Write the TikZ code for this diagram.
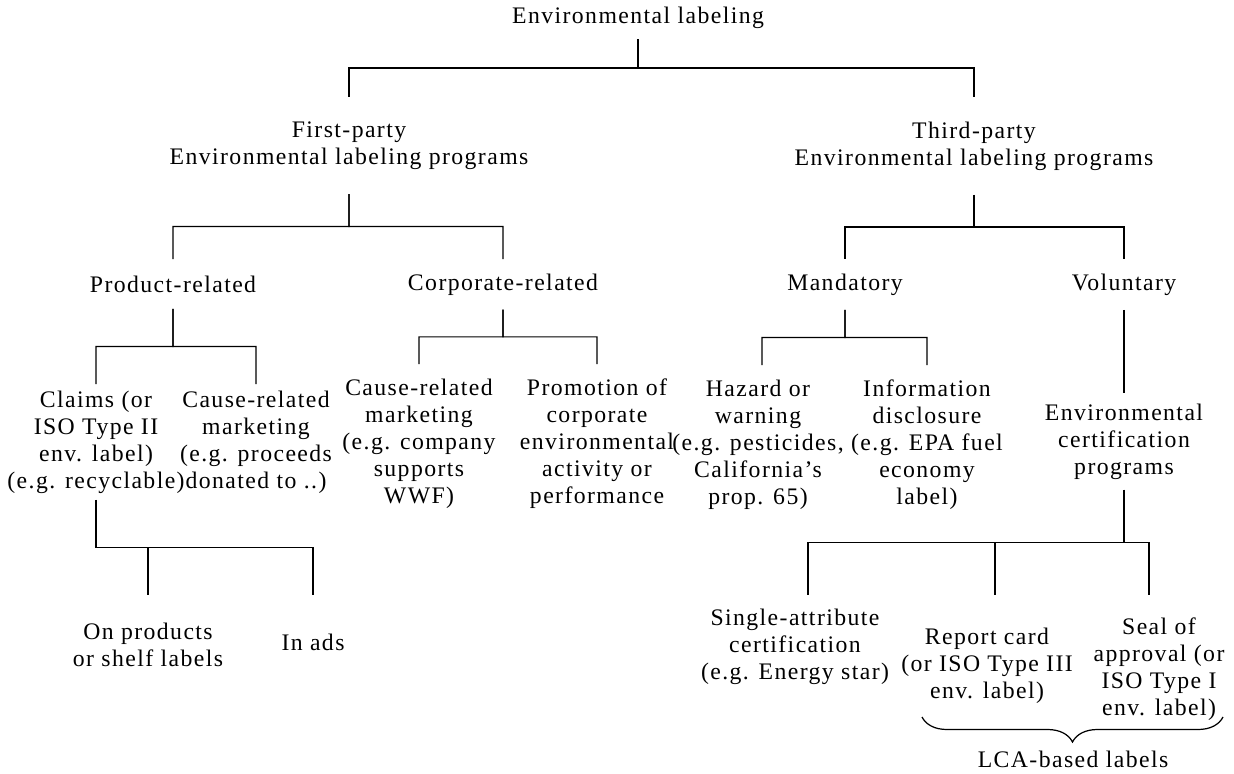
\documentclass[tikz,border=0pt]{standalone}
\usepackage{fontspec}
\setmainfont{Liberation Serif}[LetterSpace=6]
\usetikzlibrary{calc,decorations.pathreplacing}

% elbow connector: parent -> child, bar halfway between them
\newcommand{\branch}[3][0cm]{%
  \draw (#2.south) -- ($(#2.south)!.5!(#2.south |- #3.north)$) -| ([xshift=#1]#3.north);}

\begin{document}
\begin{tikzpicture}[x=0.02cm, y=-0.02cm,
  every node/.style={font=\fontsize{13.5}{15.4}\selectfont},
  lbl/.style={align=center, anchor=north, inner xsep=0pt, inner ysep=#1},
  lbl/.default=0.2cm,
  line width=0.7pt]
\useasboundingbox (0,0) rectangle (1234,774);

\node[lbl, anchor=south] (root) at (638,39) {Environmental labeling};

\node[lbl=0.48cm] (fp) at (349,97) {First-party\\Environmental labeling programs};
\node[lbl=0.48cm] (tp) at (974,97) {Third-party\\Environmental labeling programs};

\node[lbl=0.32cm] (pr) at (173,259) {Product-related};
\node[lbl=0.28cm] (cr) at (503,259) {Corporate-related};
\node[lbl=0.28cm] (md) at (845,259) {Mandatory};
\node[lbl=0.28cm] (vl) at (1124,259) {Voluntary};

\node[lbl=0.12cm] (claims) at (96,384) {Claims (or\\ISO Type II\\env. label)\\(e.g. recyclable)};
\node[lbl=0.12cm] (pcrm) at (256,384) {Cause-related\\marketing\\(e.g. proceeds\\donated to ..)};
\node[lbl=0.28cm] (ccrm) at (419,364) {Cause-related\\marketing\\(e.g. company\\supports\\WWF)};
\node[lbl=0.28cm] (promo) at (597,364) {Promotion of\\corporate\\environmental\\activity or\\performance};
\node[lbl=0.28cm] (hz) at (758,365) {Hazard or\\warning\\(e.g. pesticides,\\California’s\\prop. 65)};
\node[lbl=0.28cm] (inf) at (927,365) {Information\\disclosure\\(e.g. EPA fuel\\economy\\label)};
\node[lbl] (ec) at (1124,393) {Environmental\\certification\\programs};

\node[lbl=0.54cm] (op) at (148,595) {On products\\or shelf labels};
\node[lbl=0.76cm] (ads) at (313,595) {In ads};
\node[lbl=0.26cm] (sa) at (795,595) {Single-attribute\\certification\\(e.g. Energy star)};
\node[lbl=0.64cm] (rc) at (987,595) {Report card\\(or ISO Type III\\env. label)};
\node[lbl=0.44cm] (se) at (1159,595) {Seal of\\approval (or\\ISO Type I\\env. label)};

% tree lines
\branch{root}{fp} \branch{root}{tp}
\branch{fp}{pr} \branch{fp}{cr}
\branch{tp}{md} \branch{tp}{vl}
\branch{pr}{claims} \branch{pr}{pcrm}
\branch{cr}{ccrm} \branch{cr}{promo}
\branch[0.08cm]{md}{hz} \branch{md}{inf}
\draw (vl.south) -- (ec.north);
\branch{claims}{op} \branch{claims}{ads}
\branch[0.26cm]{ec}{sa} \branch[0.16cm]{ec}{rc} \branch[-0.2cm]{ec}{se}

% LCA brace
\coordinate (lcaL) at (922,717);
\coordinate (lcaR) at (1223,717);
\draw[decorate, decoration={brace, mirror, amplitude=0.5cm}] (lcaL) -- (lcaR);
\node[lbl=0.12cm] (lca) at (1073,744) {LCA-based labels};
\end{tikzpicture}
\end{document}
